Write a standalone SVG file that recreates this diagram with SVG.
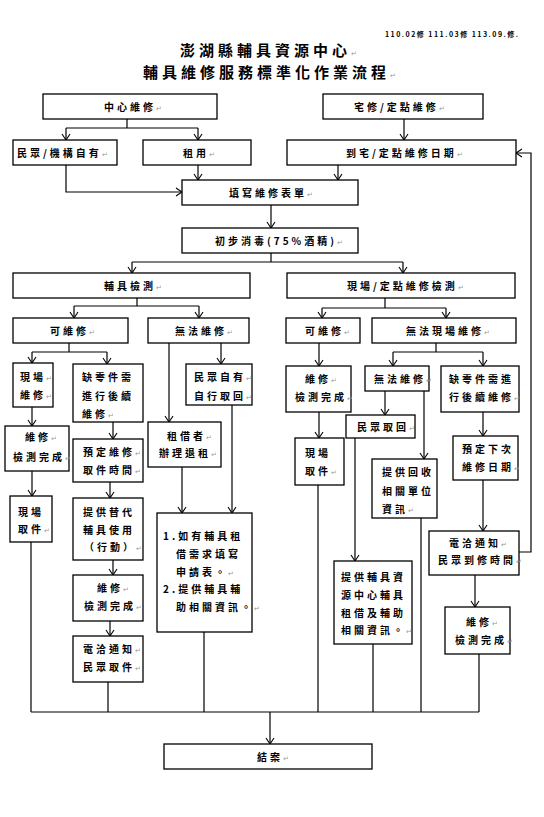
<svg xmlns="http://www.w3.org/2000/svg" width="544" height="817" viewBox="0 0 544 817">
<style>
.b{fill:#fff;stroke:#000;stroke-width:1.3}
.t{font-family:"Noto Sans CJK TC","Noto Sans CJK SC",sans-serif;font-size:10px;font-weight:700;letter-spacing:3px;fill:#000}
.h{font-family:"Noto Sans CJK TC","Noto Sans CJK SC",sans-serif;font-size:15px;font-weight:700;letter-spacing:4px;fill:#000}
.v{font-family:"Noto Sans CJK TC","Noto Sans CJK SC",sans-serif;font-size:7px;font-weight:700;fill:#000}
.r{font-family:"DejaVu Sans",sans-serif;font-size:7px;font-weight:400;fill:#999;letter-spacing:0}
.c path{fill:none;stroke:#000;stroke-width:1.2}
.c path.a{marker-end:url(#ah)}
</style>
<defs>
<marker id="ah" viewBox="0 -5 8 10" refX="7" refY="0" markerWidth="8" markerHeight="10" markerUnits="userSpaceOnUse" orient="auto">
<path d="M1,-4 L7,0 L1,4" fill="none" stroke="#000" stroke-width="1.1"/>
</marker>
</defs>
<rect width="544" height="817" fill="#fff"/>

<g id="title">
<text class="v" x="385" y="37" textLength="133" lengthAdjust="spacing">110.02修 111.03修 113.09.修.</text>
<text class="h" x="180" y="56">澎湖縣輔具資源中心<tspan class="r">↵</tspan></text>
<text class="h" x="143" y="78">輔具維修服務標準化作業流程<tspan class="r">↵</tspan></text>
</g>

<g class="c" id="connectors">
<path d="M127,119 V128 M66,128 H198"/>
<path class="a" d="M66,128 V140"/>
<path class="a" d="M198,128 V140"/>
<path class="a" d="M404,119 V140"/>
<path class="a" d="M66,165 V192 H182"/>
<path class="a" d="M198,165 V180"/>
<path class="a" d="M338,165 V180"/>
<path class="a" d="M271,205 V228"/>
<path d="M271,253 V262 M132,262 H403"/>
<path class="a" d="M132,262 V273"/>
<path class="a" d="M403,262 V273"/>
<path d="M137,298 V306 M74,306 H199"/>
<path class="a" d="M74,306 V318"/>
<path class="a" d="M199,306 V318"/>
<path d="M385,298 V308 M322,308 H446"/>
<path class="a" d="M322,308 V318"/>
<path class="a" d="M446,308 V318"/>
<path d="M69,343 V352 M32,352 H107"/>
<path class="a" d="M32,352 V363"/>
<path class="a" d="M107,352 V364"/>
<path class="a" d="M169,343 V422"/>
<path class="a" d="M221,343 V364"/>
<path class="a" d="M32,407 V426"/>
<path class="a" d="M113,422 V439"/>
<path class="a" d="M232,405 V513"/>
<path class="a" d="M182,467 V513"/>
<path class="a" d="M32,471 V496"/>
<path class="a" d="M110,482 V498"/>
<path class="a" d="M113,560 V575"/>
<path class="a" d="M110,621 V636"/>
<path class="a" d="M319,343 V366"/>
<path d="M436,343 V352 M393,352 H483"/>
<path class="a" d="M393,352 V366"/>
<path class="a" d="M483,352 V366"/>
<path class="a" d="M385,391 V415"/>
<path class="a" d="M424,391 V459"/>
<path class="a" d="M319,412 V438"/>
<path class="a" d="M483,412 V436"/>
<path class="a" d="M355,438 V561"/>
<path class="a" d="M483,480 V531"/>
<path class="a" d="M475,575 V607"/>
<path class="a" d="M519,552 H531 V153 H516"/>
<path d="M31,542 V712 M108,682 V712 M204,632 V712 M318,485 V712 M373,644 V712 M421,518 V712 M479,654 V712 M31,712 H479"/>
<path class="a" d="M270,712 V744"/>
</g>

<g id="n1"><rect class="b" x="43" y="94" width="174" height="25"/><text class="t" x="104" y="111">中心維修<tspan class="r">↵</tspan></text></g>
<g id="n2"><rect class="b" x="323" y="94" width="160" height="25"/><text class="t" x="354" y="111">宅修/定點維修<tspan class="r">↵</tspan></text></g>
<g id="n3"><rect class="b" x="13" y="140" width="104" height="25"/><text class="t" x="17" y="157">民眾/機構自有<tspan class="r">↵</tspan></text></g>
<g id="n4"><rect class="b" x="143" y="140" width="108" height="25"/><text class="t" x="183" y="157">租用<tspan class="r">↵</tspan></text></g>
<g id="n5"><rect class="b" x="287" y="140" width="229" height="25"/><text class="t" x="346" y="157">到宅/定點維修日期<tspan class="r">↵</tspan></text></g>
<g id="n6"><rect class="b" x="182" y="180" width="176" height="25"/><text class="t" x="229" y="197">填寫維修表單<tspan class="r">↵</tspan></text></g>
<g id="n7"><rect class="b" x="182" y="228" width="176" height="25"/><text class="t" x="215" y="245">初步消毒(75%酒精)<tspan class="r">↵</tspan></text></g>
<g id="n8"><rect class="b" x="13" y="273" width="237" height="25"/><text class="t" x="104" y="290">輔具檢測<tspan class="r">↵</tspan></text></g>
<g id="n9"><rect class="b" x="287" y="273" width="228" height="25"/><text class="t" x="347" y="290">現場/定點維修檢測<tspan class="r">↵</tspan></text></g>

<g id="n10"><rect class="b" x="13" y="318" width="115" height="25"/><text class="t" x="50" y="335">可維修<tspan class="r">↵</tspan></text></g>
<g id="n11"><rect class="b" x="148" y="318" width="101" height="25"/><text class="t" x="175" y="335">無法維修<tspan class="r">↵</tspan></text></g>
<g id="n12"><rect class="b" x="286" y="318" width="74" height="25"/><text class="t" x="305" y="335">可維修<tspan class="r">↵</tspan></text></g>
<g id="n13"><rect class="b" x="372" y="318" width="144" height="25"/><text class="t" x="406" y="335">無法現場維修<tspan class="r">↵</tspan></text></g>

<g id="n14"><rect class="b" x="13" y="363" width="40" height="44"/><text class="t" x="20" y="381">現場<tspan class="r">↵</tspan></text><text class="t" x="20" y="399">維修<tspan class="r">↵</tspan></text></g>
<g id="n15"><rect class="b" x="73" y="364" width="70" height="58"/><text class="t" x="82" y="381">缺零件需</text><text class="t" x="82" y="400">進行後續</text><text class="t" x="82" y="418">維修<tspan class="r">↵</tspan></text></g>
<g id="n16"><rect class="b" x="186" y="364" width="66" height="41"/><text class="t" x="194" y="381">民眾自有<tspan class="r">↵</tspan></text><text class="t" x="194" y="400">自行取回<tspan class="r">↵</tspan></text></g>
<g id="n17"><rect class="b" x="5" y="426" width="64" height="45"/><text class="t" x="25" y="441">維修<tspan class="r">↵</tspan></text><text class="t" x="13" y="461">檢測完成<tspan class="r">↵</tspan></text></g>
<g id="n18"><rect class="b" x="73" y="439" width="70" height="43"/><text class="t" x="83" y="456">預定維修<tspan class="r">↵</tspan></text><text class="t" x="83" y="474">取件時間<tspan class="r">↵</tspan></text></g>
<g id="n19"><rect class="b" x="148" y="422" width="73" height="45"/><text class="t" x="167" y="440">租借者<tspan class="r">↵</tspan></text><text class="t" x="159" y="457">辦理退租<tspan class="r">↵</tspan></text></g>
<g id="n20"><rect class="b" x="10" y="496" width="42" height="46"/><text class="t" x="18" y="516">現場</text><text class="t" x="18" y="533">取件<tspan class="r">↵</tspan></text></g>
<g id="n21"><rect class="b" x="73" y="498" width="70" height="62"/><text class="t" x="83" y="516">提供替代</text><text class="t" x="83" y="534">輔具使用</text><text class="t" x="84" y="551">（行動）<tspan class="r">↵</tspan></text></g>
<g id="n22"><rect class="b" x="157" y="513" width="95" height="119"/><text class="t" x="163" y="540">1.如有輔具租</text><text class="t" x="176" y="558">借需求填寫</text><text class="t" x="176" y="576">申請表。<tspan class="r">↵</tspan></text><text class="t" x="163" y="593">2.提供輔具輔</text><text class="t" x="176" y="611">助相關資訊。<tspan class="r">↵</tspan></text></g>
<g id="n23"><rect class="b" x="73" y="575" width="70" height="46"/><text class="t" x="97" y="592">維修<tspan class="r">↵</tspan></text><text class="t" x="84" y="610">檢測完成<tspan class="r">↵</tspan></text></g>
<g id="n24"><rect class="b" x="73" y="636" width="70" height="46"/><text class="t" x="83" y="653">電洽通知<tspan class="r">↵</tspan></text><text class="t" x="83" y="671">民眾取件<tspan class="r">↵</tspan></text></g>

<g id="n25"><rect class="b" x="286" y="366" width="65" height="46"/><text class="t" x="305" y="383">維修<tspan class="r">↵</tspan></text><text class="t" x="295" y="401">檢測完成<tspan class="r">↵</tspan></text></g>
<g id="n26"><rect class="b" x="365" y="366" width="64" height="25"/><text class="t" x="374" y="383">無法維修<tspan class="r">↵</tspan></text></g>
<g id="n27"><rect class="b" x="441" y="366" width="78" height="46"/><text class="t" x="449" y="383">缺零件需進</text><text class="t" x="449" y="401">行後續維修<tspan class="r">↵</tspan></text></g>
<g id="n28"><rect class="b" x="346" y="415" width="69" height="23"/><text class="t" x="357" y="431">民眾取回<tspan class="r">↵</tspan></text></g>
<g id="n29"><rect class="b" x="295" y="438" width="49" height="47"/><text class="t" x="305" y="457">現場</text><text class="t" x="305" y="475">取件<tspan class="r">↵</tspan></text></g>
<g id="n30"><rect class="b" x="372" y="459" width="65" height="59"/><text class="t" x="382" y="476">提供回收</text><text class="t" x="382" y="495">相關單位</text><text class="t" x="382" y="513">資訊<tspan class="r">↵</tspan></text></g>
<g id="n31"><rect class="b" x="453" y="436" width="65" height="44"/><text class="t" x="462" y="453">預定下次</text><text class="t" x="462" y="471">維修日期<tspan class="r">↵</tspan></text></g>
<g id="n32"><rect class="b" x="429" y="531" width="90" height="44"/><text class="t" x="449" y="547">電洽通知<tspan class="r">↵</tspan></text><text class="t" x="438" y="564">民眾到修時間<tspan class="r">↵</tspan></text></g>
<g id="n33"><rect class="b" x="334" y="561" width="78" height="83"/><text class="t" x="341" y="581">提供輔具資</text><text class="t" x="341" y="599">源中心輔具</text><text class="t" x="341" y="617">租借及輔助</text><text class="t" x="341" y="634">相關資訊。<tspan class="r">↵</tspan></text></g>
<g id="n34"><rect class="b" x="445" y="607" width="65" height="47"/><text class="t" x="466" y="626">維修<tspan class="r">↵</tspan></text><text class="t" x="455" y="644">檢測完成<tspan class="r">↵</tspan></text></g>

<g id="n35"><rect class="b" x="164" y="744" width="208" height="25"/><text class="t" x="257" y="761">結案<tspan class="r">↵</tspan></text></g>
</svg>
